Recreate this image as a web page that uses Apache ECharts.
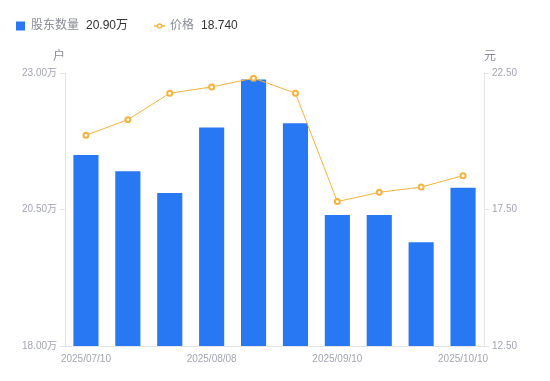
<!DOCTYPE html>
<html>
<head>
<meta charset="utf-8">
<script src="https://cdn.jsdelivr.net/npm/echarts@6/dist/echarts.min.js"></script>
<style>
    html, body {margin: 0; padding: 0; background: #fff;}
    #holder_chart {width: 550px; height: 381px;}
</style>
</head>
<body>
<div id="holder_chart"></div>
<script>
// 日期
var dates = ['2025/07/10', '2025/07/20', '2025/07/31', '2025/08/08', '2025/08/20',
    '2025/08/29', '2025/09/10', '2025/09/19', '2025/09/30', '2025/10/10'];
// 股东数量(万户)
var holders = [21.50, 21.20, 20.80, 22.00, 22.88, 22.08, 20.40, 20.40, 19.90, 20.90];
// 价格(元)
var prices = [20.22, 20.79, 21.76, 21.99, 22.31, 21.76, 17.79, 18.13, 18.32, 18.74];
// 坐标轴范围
var holderAxis = {min: 18, max: 23, interval: 2.5};
var priceAxis = {min: 12.5, max: 22.5, interval: 5};

var barColor = '#2878f4';
var lineColor = '#f7b23b';
var labelColor = '#a3a6b4';
var axisColor = '#e3e4e8';

// 图例图标: 方块 / 线+空心圆
var iconSquare = 'path://M0,0H10V10H0Z';
var iconLine = 'path://M0,4.6H6V7.4H0Z M18,4.6H24V7.4H18Z ' +
    'M6,6A6,6 0 1 0 18,6A6,6 0 1 0 6,6Z ' +
    'M9,6A3,3 0 1 1 15,6A3,3 0 1 1 9,6Z';

var lastHolder = holders[holders.length - 1].toFixed(2) + '万';
var lastPrice = prices[prices.length - 1].toFixed(3);

var chart = echarts.init(document.getElementById('holder_chart'));
chart.setOption({
    animation: false,
    textStyle: {fontFamily: 'Arial, "Noto Sans CJK SC", sans-serif'},
    legend: {
        left: 11,
        top: 15,
        itemWidth: 11,
        itemHeight: 9,
        itemGap: 26,
        data: [
            {name: '股东数量', icon: iconSquare},
            {name: '价格', icon: iconLine}
        ],
        formatter: function (name) {
            var v = name === '股东数量' ? lastHolder : lastPrice;
            return '{n|' + name + '}{v|' + v + '}';
        },
        textStyle: {
            rich: {
                n: {fontSize: 12, color: '#8a8d99'},
                v: {fontSize: 12, color: '#333', padding: [0, 0, 0, 7]}
            }
        }
    },
    grid: {left: 65, right: 66, top: 73, bottom: 35},
    xAxis: {
        type: 'category',
        data: dates,
        axisLine: {lineStyle: {color: axisColor}},
        axisTick: {show: false},
        axisLabel: {interval: 2, fontSize: 10, color: labelColor}
    },
    yAxis: [
        {
            type: 'value',
            name: '户',
            min: holderAxis.min,
            max: holderAxis.max,
            interval: holderAxis.interval,
            nameTextStyle: {color: '#8a8d99', fontSize: 12, align: 'right'},
            nameGap: 10,
            axisLine: {show: true, lineStyle: {color: axisColor}},
            axisTick: {show: true, length: 5, lineStyle: {color: axisColor}},
            splitLine: {show: false},
            axisLabel: {
                fontSize: 10, color: labelColor,
                formatter: function (v) { return v.toFixed(2) + '万'; }
            }
        },
        {
            type: 'value',
            name: '元',
            min: priceAxis.min,
            max: priceAxis.max,
            interval: priceAxis.interval,
            nameTextStyle: {color: '#8a8d99', fontSize: 12, align: 'left'},
            nameGap: 10,
            axisLine: {show: true, lineStyle: {color: axisColor}},
            axisTick: {show: true, length: 5, lineStyle: {color: axisColor}},
            splitLine: {show: false},
            axisLabel: {
                fontSize: 10, color: labelColor,
                formatter: function (v) { return v.toFixed(2); }
            }
        }
    ],
    series: [
        {
            name: '股东数量',
            type: 'bar',
            barWidth: '60%',
            yAxisIndex: 0,
            itemStyle: {color: barColor},
            data: holders
        },
        {
            name: '价格',
            type: 'line',
            yAxisIndex: 1,
            symbol: 'emptyCircle',
            symbolSize: 5,
            showAllSymbol: true,
            lineStyle: {color: lineColor, width: 1},
            itemStyle: {color: lineColor, borderWidth: 2},
            data: prices
        }
    ]
});
</script>
</body>
</html>
